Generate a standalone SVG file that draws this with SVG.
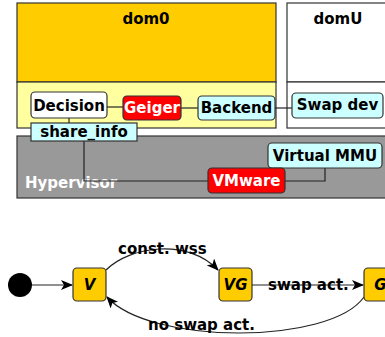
<svg xmlns="http://www.w3.org/2000/svg" width="385" height="337" viewBox="0 0 385 337">
<defs>
<style>
text{font-family:"DejaVu Sans",sans-serif;font-weight:bold;font-size:15px;fill:#000}
.w{fill:#fff}
.c{text-anchor:middle}
.it{font-style:italic}
.area{stroke:#333;stroke-width:1.2}
.box{stroke:#333;stroke-width:1.2}
.conn{stroke:#222;stroke-width:1.2;fill:none}
</style>
<marker id="ah" viewBox="0 0 12 10" refX="11" refY="5" markerWidth="12" markerHeight="10" markerUnits="userSpaceOnUse" orient="auto">
<path d="M0,0 L12,5 L0,10 L3,5 Z" fill="#000"/>
</marker>
</defs>
<g id="dom0">
<rect class="area" x="17" y="3" width="259" height="79" fill="#ffcc00"/>
<rect class="area" x="17" y="82" width="259" height="46" fill="#ffffa0"/>
<text class="c" x="146" y="24">dom0</text>
</g>
<g id="domU">
<rect class="area" x="287" y="3" width="110" height="79" fill="#fff"/>
<rect class="area" x="287" y="82" width="110" height="46" fill="#fff"/>
<text class="c" x="338" y="24">domU</text>
</g>
<g id="hypervisor">
<rect class="area" x="17" y="136" width="380" height="62" fill="#999"/>
<text class="w" x="25" y="188">Hypervisor</text>
</g>
<g id="connectors">
<line class="conn" x1="107" y1="107" x2="123" y2="107"/>
<line class="conn" x1="181" y1="108" x2="198" y2="108"/>
<line class="conn" x1="275" y1="108" x2="292" y2="108"/>
<line class="conn" x1="69" y1="118" x2="69" y2="123"/>
<polyline class="conn" points="84,141 84,181 208,181"/>
<polyline class="conn" points="285,181 325,181 325,168"/>
<line class="conn" x1="32" y1="285" x2="72" y2="285" marker-end="url(#ah)"/>
<line class="conn" x1="252" y1="285" x2="363" y2="285" marker-end="url(#ah)"/>
<path class="conn" d="M106,270 C130,246 188,238 218,270" marker-end="url(#ah)"/>
<path class="conn" d="M364,297 C330,345 150,345 107,297" marker-end="url(#ah)"/>
</g>
<g id="decision">
<rect class="box" x="31" y="92" width="76" height="26" rx="4" fill="#fff"/>
<text class="c" x="69" y="111">Decision</text>
</g>
<g id="geiger">
<rect class="box" x="123" y="96" width="58" height="24" rx="4" fill="#ff0000"/>
<text class="c w" x="152" y="113">Geiger</text>
</g>
<g id="backend">
<rect class="box" x="198" y="96" width="77" height="24" rx="4" fill="#ccffff"/>
<text class="c" x="236.5" y="113">Backend</text>
</g>
<g id="swapdev">
<rect class="box" x="292" y="93" width="91" height="25" rx="4" fill="#ccffff"/>
<text class="c" x="337.5" y="110">Swap dev</text>
</g>
<g id="share_info">
<rect class="box" x="31" y="123" width="106" height="18" fill="#ccffff"/>
<text class="c" x="84" y="137">share_info</text>
</g>
<g id="vmmu">
<rect class="box" x="268" y="143" width="114" height="25" rx="4" fill="#ccffff"/>
<text class="c" x="325" y="161">Virtual MMU</text>
</g>
<g id="vmware">
<rect class="box" x="208" y="168" width="77" height="25" rx="4" fill="#ff0000"/>
<text class="c w" x="246.5" y="186">VMware</text>
</g>
<g id="start">
<circle cx="20" cy="285" r="12" fill="#000"/>
</g>
<g id="V">
<rect class="box" x="73" y="268" width="33" height="33" rx="4" fill="#ffcc00"/>
<text class="c it" x="89.5" y="290">V</text>
</g>
<g id="VG">
<rect class="box" x="219" y="268" width="33" height="33" rx="4" fill="#ffcc00"/>
<text class="c it" x="235.5" y="290">VG</text>
</g>
<g id="G">
<rect class="box" x="364" y="268" width="33" height="33" rx="4" fill="#ffcc00"/>
<text class="c it" x="380.5" y="290">G</text>
</g>
<g id="labels">
<text x="118" y="254">const. wss</text>
<text x="268" y="290">swap act.</text>
<text x="148" y="330">no swap act.</text>
</g>
</svg>
